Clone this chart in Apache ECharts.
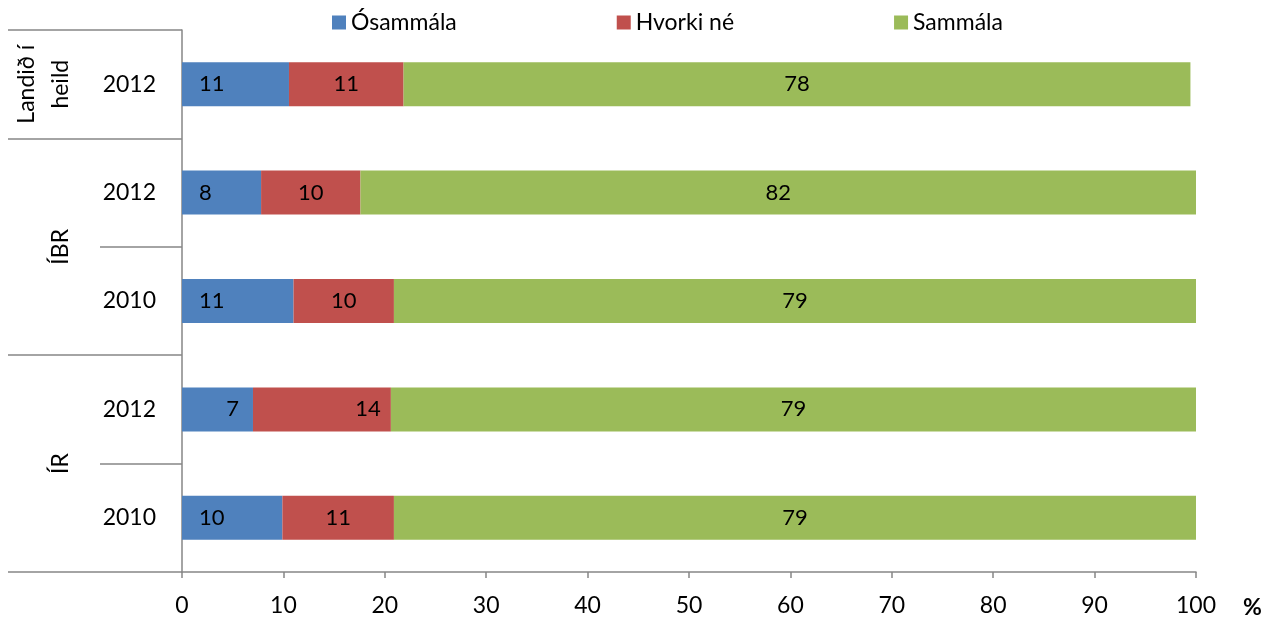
<!DOCTYPE html>
<html>
<head>
<meta charset="utf-8">
<script src="https://cdn.jsdelivr.net/npm/echarts@6/dist/echarts.min.js"></script>
<style>
	html, body { margin: 0; padding: 0; background: #fff; }
	#chart { width: 1279px; height: 621px; }
</style>
</head>
<body>
<div id="chart"></div>
<script>
// ár hverrar línu, ofan frá og niður
const years = ['2012', '2012', '2010', '2012', '2010'];
// hópar og fjöldi lína í hverjum
const groups = ['Landið í\nheild', 'ÍBR', 'ÍR'];
const groupSizes = [1, 2, 2];

const osammala = [10.55, 7.8, 11.0, 7.0, 9.9];
const hvorki = [11.3, 9.8, 9.9, 13.6, 11.0];
const sammala = [77.6, 82.4, 79.1, 79.4, 79.1];

const xTicks = [0, 10, 20, 30, 40, 50, 60, 70, 80, 90, 100];

const FONT = 'Lato';
const GREY = '#868686';

// mörk og miðjur hópa á kvarða 0..5
let groupEdges = [0], groupMids = [], acc = 0;
groupSizes.forEach(n => {
	groupMids.push(acc + n / 2);
	acc += n;
	groupEdges.push(acc);
});

const chart = echarts.init(document.getElementById('chart'));

function seriesData(values, normalLabel, specialRow, specialLabel) {
	return values.map((v, i) => i === specialRow
		? { value: v, label: specialLabel }
		: { value: v, label: normalLabel });
}

const barLabel = {
	show: true,
	color: '#000',
	fontFamily: FONT,
	fontSize: 22,
	formatter: p => Math.round(p.value)
};

chart.setOption({
	animation: false,
	textStyle: { fontFamily: FONT },
	legend: {
		left: 327,
		top: 6,
		icon: 'rect',
		itemWidth: 14,
		itemHeight: 14,
		itemGap: 160,
		textStyle: { fontSize: 23, color: '#000', fontFamily: FONT },
		data: ['Ósammála', 'Hvorki né', 'Sammála']
	},
	grid: {
		left: 182,
		right: 83,
		top: 30,
		bottom: 49,
		containLabel: false
	},
	xAxis: {
		type: 'value',
		min: 0,
		max: 100,
		interval: 10,
		name: '%',
		nameLocation: 'end',
		nameGap: 47,
		nameMoveOverlap: false,
		nameTextStyle: {
			fontSize: 23, fontWeight: 'bold', color: '#000',
			verticalAlign: 'top', padding: [24, 0, 0, 0]
		},
		axisLine: { show: true, onZero: false, lineStyle: { color: GREY, width: 1.5 } },
		axisTick: { show: true, length: 6, lineStyle: { color: GREY, width: 1.5 } },
		axisLabel: { color: '#000', fontSize: 23, margin: 22, formatter: v => xTicks.includes(v) ? v : '' },
		splitLine: { show: false }
	},
	yAxis: [
		{
			type: 'category',
			inverse: true,
			data: years,
			axisLine: { show: true, lineStyle: { color: GREY, width: 1.5 } },
			axisTick: { show: true, length: 82, lineStyle: { color: GREY, width: 1.5 } },
			axisLabel: { color: '#000', fontSize: 23, margin: 26 }
		},
		{
			type: 'value',
			position: 'left',
			offset: 174,
			inverse: true,
			min: 0,
			max: 5,
			axisLine: { show: false },
			axisTick: {
				show: true, inside: true, length: 174,
				customValues: groupEdges,
				lineStyle: { color: GREY, width: 1.5 }
			},
			axisLabel: {
				show: true, inside: true, margin: 53, rotate: 90,
				verticalAlign: 'middle',
				color: '#000', fontSize: 23, lineHeight: 34,
				customValues: groupMids,
				// tvílínu merkið fær auða línu til að sitja eins og í frumriti
				formatter: v => {
					const g = groups[groupMids.indexOf(v)];
					return g.indexOf('\n') >= 0 ? g + '\n ' : g;
				}
			},
			splitLine: { show: false }
		}
	],
	series: [
		{
			name: 'Ósammála',
			type: 'bar',
			stack: 'a',
			barWidth: 44,
			itemStyle: { color: '#4F81BD' },
			data: seriesData(osammala,
				Object.assign({}, barLabel, { position: 'insideLeft', distance: 17 }),
				3,
				Object.assign({}, barLabel, { position: 'insideRight', distance: 14 }))
		},
		{
			name: 'Hvorki né',
			type: 'bar',
			stack: 'a',
			barWidth: 44,
			itemStyle: { color: '#C0504D' },
			data: seriesData(hvorki,
				Object.assign({}, barLabel, { position: 'inside' }),
				3,
				Object.assign({}, barLabel, { position: 'insideRight', distance: 10 }))
		},
		{
			name: 'Sammála',
			type: 'bar',
			stack: 'a',
			barWidth: 44,
			itemStyle: { color: '#9BBB59' },
			label: Object.assign({}, barLabel, { position: 'inside' }),
			data: sammala
		}
	]
});
</script>
</body>
</html>
